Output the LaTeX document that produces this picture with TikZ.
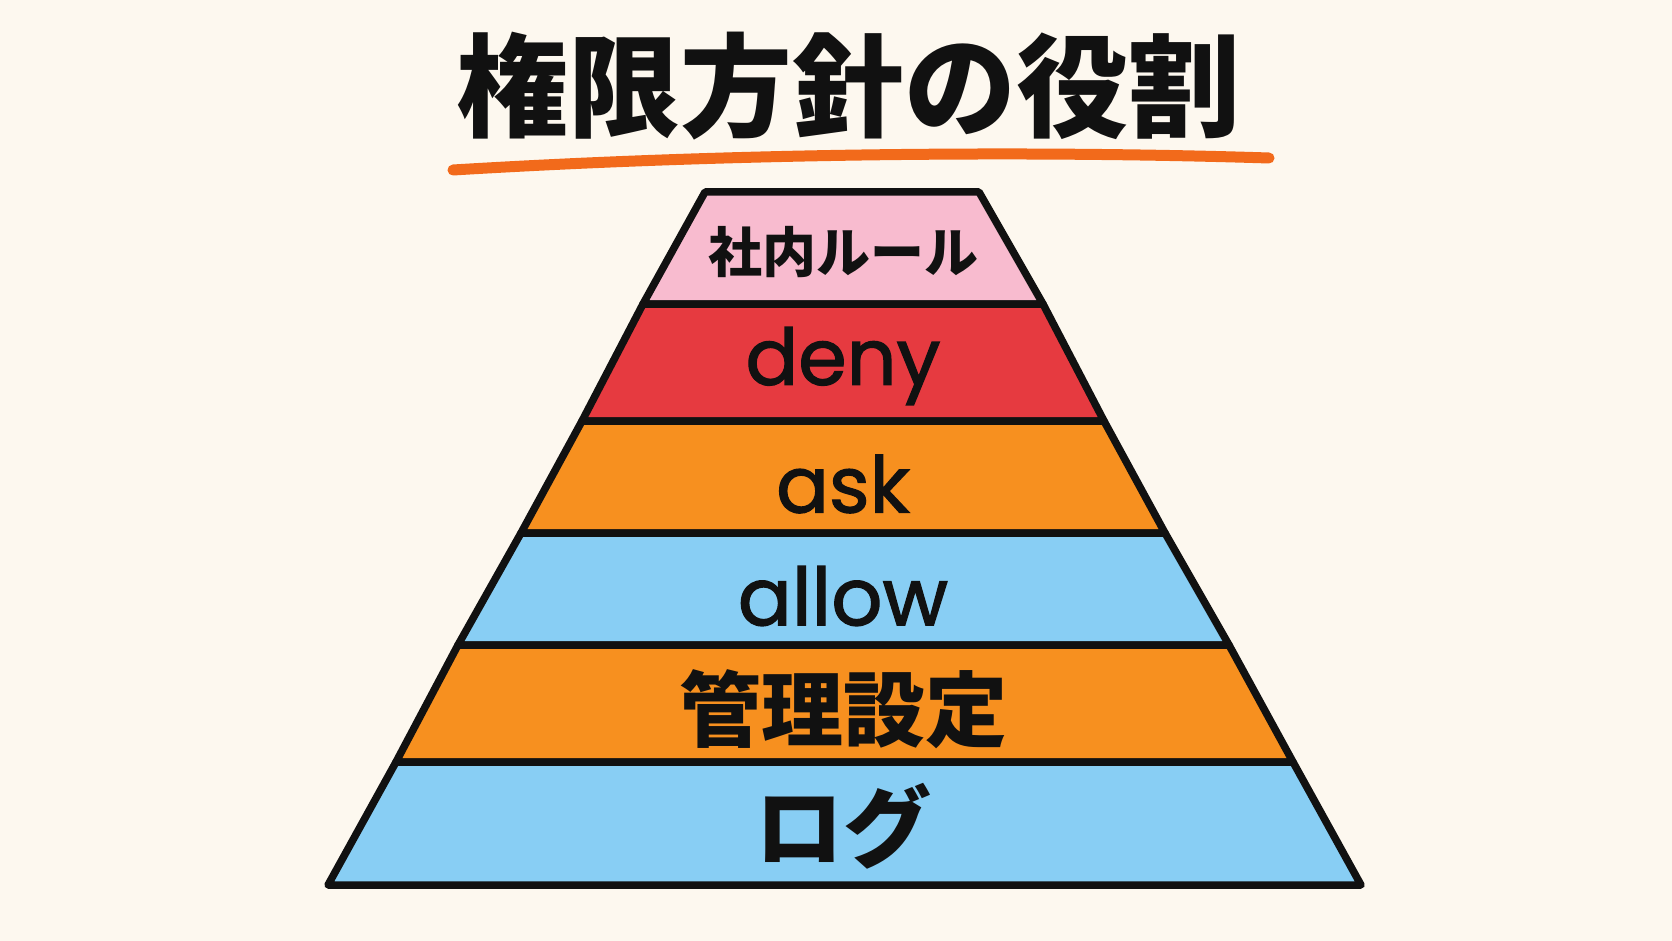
\documentclass[tikz,border=0pt]{standalone}
\usepackage{fontspec}
\newfontfamily\jpfont{Noto Sans CJK JP}
\newfontfamily\latfont{Poppins}[FakeBold=1.6]
\definecolor{bgc}{HTML}{FDF8EF}
\definecolor{pinkc}{HTML}{F8BBCF}
\definecolor{redc}{HTML}{E63A40}
\definecolor{orangec}{HTML}{F7901F}
\definecolor{bluec}{HTML}{88CEF4}
\definecolor{linec}{HTML}{F26A1B}
\definecolor{inkc}{HTML}{111111}
\tikzset{
  band/.style={draw=inkc, line width=7.5pt, line join=round, line cap=round},
  jplabel/.style={inner sep=0pt, text=inkc, font=\jpfont\bfseries\fontsize{#1}{#1}\selectfont},
  latlabel/.style={inner sep=0pt, text=inkc, font=\latfont\fontsize{#1}{#1}\selectfont},
}
\begin{document}
\begin{tikzpicture}[x=1pt,y=-1pt]
\fill[bgc] (0,0) rectangle (1672,941);
\useasboundingbox (0,0) rectangle (1672,941);
% corners
\coordinate (l0) at (705,192); \coordinate (r0) at (979,192);
\coordinate (l1) at (643,304); \coordinate (r1) at (1043,304);
\coordinate (l2) at (582,421); \coordinate (r2) at (1104,421);
\coordinate (l3) at (521,533); \coordinate (r3) at (1165,533);
\coordinate (l4) at (458,645); \coordinate (r4) at (1229,645);
\coordinate (l5) at (396,762); \coordinate (r5) at (1293,762);
\coordinate (l6) at (328,885); \coordinate (r6) at (1361,885);
% bands
\filldraw[band, fill=pinkc] (l0) -- (r0) -- (r1) -- (l1) -- cycle;
\filldraw[band, fill=redc] (l1) -- (r1) -- (r2) -- (l2) -- cycle;
\filldraw[band, fill=orangec] (l2) -- (r2) -- (r3) -- (l3) -- cycle;
\filldraw[band, fill=bluec] (l3) -- (r3) -- (r4) -- (l4) -- cycle;
\filldraw[band, fill=orangec] (l4) -- (r4) -- (r5) -- (l5) -- cycle;
\filldraw[band, fill=bluec] (l5) -- (r5) -- (r6) -- (l6) -- cycle;
% title
\node[jplabel=112] (title) at (848,86) {権限方針の役割};
\coordinate (ulA) at (453,170);
\coordinate (ulB) at (1269,158);
\draw[linec, line width=11pt, line cap=round] (ulA) .. controls (750,152) and (1050,151) .. (ulB);
% labels
\node[jplabel=54] (rule) at (843,252) {社内ルール};
\node[latlabel=78] (deny) at (843,366) {deny};
\node[latlabel=78] (ask) at (843,484) {ask};
\node[latlabel=80] (allow) at (843,596) {allow};
\node[jplabel=82] (admin) at (843,709) {管理設定};
\node[jplabel=88] (log) at (843,826) {ログ};
\end{tikzpicture}
\end{document}
